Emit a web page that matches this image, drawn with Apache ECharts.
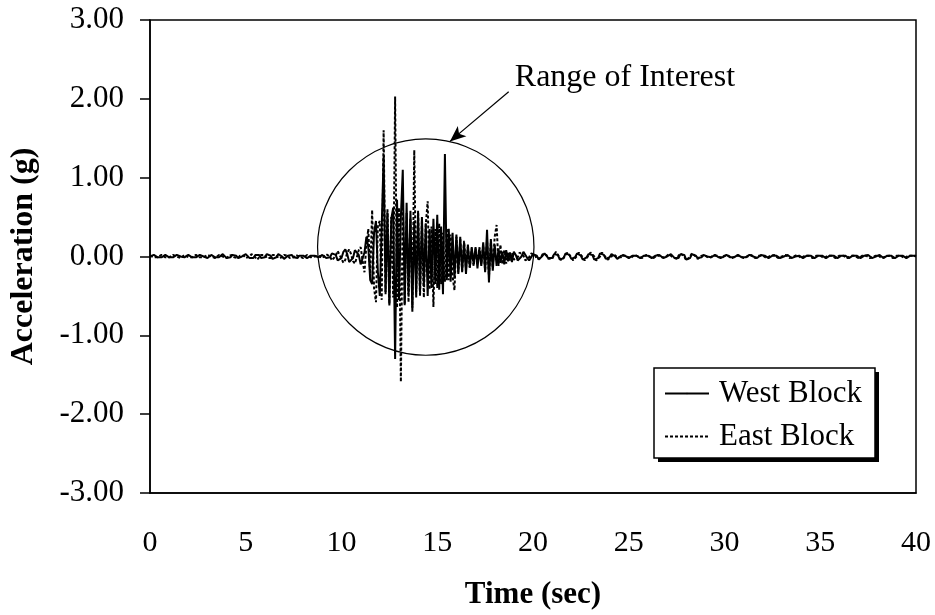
<!DOCTYPE html>
<html>
<head>
<meta charset="utf-8">
<script src="https://cdn.jsdelivr.net/npm/echarts@6/dist/echarts.min.js"></script>
<style>
html,body{margin:0;padding:0;background:#fff;}
#chart{width:935px;height:615px;}
</style>
</head>
<body>
<div id="chart"></div>
<script>
// ---- data ----
const timeStep = 0.1; // seconds between samples
const xTicks = [0, 5, 10, 15, 20, 25, 30, 35, 40];
const yTicks = [-3, -2, -1, 0, 1, 2, 3];
const seriesNames = ['West Block', 'East Block'];

const westAccel = [
  0.00, 0.01, 0.02, 0.01,-0.01,-0.02,-0.01, 0.01, 0.02, 0.01,
 -0.01,-0.02,-0.01, 0.01, 0.02, 0.01, 0.00,-0.02,-0.01, 0.01,
  0.02, 0.01,-0.01,-0.02,-0.01, 0.01, 0.02, 0.02, 0.00,-0.02,
 -0.02, 0.00, 0.02, 0.01,-0.01,-0.02,-0.01, 0.01, 0.03, 0.01,
 -0.02,-0.03,-0.01, 0.02, 0.03, 0.01,-0.02,-0.02, 0.00, 0.02,
  0.03, 0.01,-0.02,-0.04,-0.02, 0.02, 0.04, 0.02,-0.02,-0.03,
 -0.01, 0.03, 0.04, 0.01,-0.03,-0.04,-0.01, 0.03, 0.03, 0.00,
 -0.03,-0.02, 0.01, 0.03, 0.02,-0.01,-0.03,-0.02, 0.01, 0.02,
  0.01,-0.01,-0.02,-0.01, 0.01, 0.02, 0.01,-0.01,-0.01, 0.01,
  0.02, 0.01,-0.02,-0.04,-0.01, 0.04, 0.06, 0.02,-0.05,-0.07,
 -0.02, 0.06, 0.09, 0.03,-0.07,-0.09,-0.02, 0.08, 0.10, 0.02,
 -0.10,-0.12, 0.05, 0.25, 0.12,-0.30,-0.35, 0.30, 0.45,-0.20,
 -0.50, 0.38, 1.27,-0.45, 0.55,-0.62, 0.48, 0.62,-1.30, 0.72,
 -0.55, 0.50, 1.10,-0.60, 0.68,-0.48, 0.58,-0.70, 0.45,-0.52,
  0.55,-0.45, 0.50,-0.38, 0.42,-0.50, 0.35,-0.40, 0.48,-0.35,
  0.53,-0.42, 0.38,-0.48, 1.30,-0.30, 0.35,-0.32, 0.30,-0.28,
  0.28,-0.22, 0.25,-0.20, 0.18,-0.22, 0.15,-0.14, 0.12,-0.10,
  0.12,-0.15, 0.10,-0.12, 0.18,-0.20, 0.34,-0.33, 0.22,-0.18,
  0.15,-0.12, 0.10,-0.08, 0.06,-0.10, 0.08,-0.06, 0.05,-0.07,
  0.06, 0.02,-0.05,-0.06, 0.00, 0.06, 0.05,-0.02,-0.05,-0.03,
  0.03, 0.05, 0.01,-0.04,-0.04, 0.01, 0.04, 0.03,-0.02,-0.04,
 -0.02, 0.03, 0.05, 0.02,-0.04,-0.06,-0.02, 0.04, 0.06, 0.02,
 -0.03,-0.05,-0.01, 0.04, 0.05, 0.01,-0.04,-0.05,-0.01, 0.03,
  0.05, 0.02,-0.04,-0.06,-0.02, 0.04, 0.06, 0.02,-0.03,-0.04,
 -0.01, 0.03, 0.03, 0.00,-0.03,-0.02, 0.01, 0.02, 0.01,-0.01,
 -0.02,-0.01, 0.01, 0.02, 0.01,-0.01,-0.02,-0.01, 0.01, 0.02,
  0.01,-0.01,-0.02,-0.01, 0.01, 0.02, 0.02, 0.00,-0.02,-0.02,
  0.00, 0.02, 0.03, 0.01,-0.02,-0.04,-0.02, 0.03, 0.05, 0.02,
 -0.04,-0.06,-0.02, 0.03, 0.04, 0.01,-0.02,-0.03,-0.01, 0.02,
  0.02, 0.00,-0.02,-0.01, 0.01, 0.02, 0.01,-0.01,-0.02,-0.01,
  0.01, 0.02, 0.01,-0.01,-0.02,-0.01, 0.01, 0.02, 0.01,-0.01,
 -0.02,-0.01, 0.01, 0.02, 0.02, 0.00,-0.02,-0.02, 0.00, 0.02,
  0.02, 0.01,-0.01,-0.02,-0.01, 0.01, 0.02, 0.01,-0.01,-0.02,
 -0.02, 0.00, 0.02, 0.02, 0.00,-0.02,-0.02, 0.00, 0.02, 0.01,
 -0.01,-0.02,-0.01, 0.01, 0.02, 0.01,-0.01,-0.02,-0.01, 0.01,
  0.02, 0.01,-0.01,-0.02,-0.01, 0.01, 0.02, 0.01,-0.01,-0.02,
 -0.01, 0.01, 0.02, 0.01,-0.01,-0.02,-0.01, 0.01, 0.02, 0.01,
 -0.01,-0.02,-0.01, 0.01, 0.02, 0.02, 0.00,-0.02,-0.02, 0.00,
  0.02, 0.02, 0.00,-0.02,-0.01, 0.01, 0.02, 0.01,-0.01,-0.02,
 -0.01, 0.01, 0.02, 0.01,-0.01,-0.02,-0.01, 0.01, 0.02, 0.01,
  0.00
];

const eastAccel = [
  0.01, 0.00,-0.01,-0.02,-0.01, 0.01, 0.02, 0.01,-0.01,-0.02,
 -0.01, 0.01, 0.02, 0.02, 0.00,-0.02,-0.02, 0.00, 0.02, 0.01,
 -0.01,-0.02,-0.01, 0.01, 0.02, 0.01,-0.01,-0.02,-0.01, 0.01,
  0.02, 0.02, 0.00,-0.02,-0.02, 0.00, 0.02, 0.02, 0.00,-0.02,
 -0.02, 0.01, 0.03, 0.02,-0.01,-0.03,-0.02, 0.01, 0.03, 0.01,
 -0.02,-0.03, 0.00, 0.03, 0.03,-0.01,-0.04,-0.02, 0.02, 0.04,
  0.02,-0.02,-0.04,-0.02, 0.02, 0.04, 0.02,-0.02,-0.04,-0.01,
  0.02, 0.03, 0.01,-0.02,-0.03,-0.01, 0.02, 0.03, 0.00,-0.02,
 -0.02, 0.00, 0.02, 0.01,-0.01,-0.02, 0.00, 0.02, 0.01,-0.01,
 -0.02, 0.00, 0.03, 0.04, 0.00,-0.05,-0.05, 0.01, 0.07, 0.05,
 -0.03,-0.08,-0.04, 0.05, 0.09, 0.03,-0.06,-0.09,-0.01, 0.08,
  0.12,-0.05,-0.20, 0.15, 0.35,-0.25, 0.59,-0.40,-0.58, 0.40,
  0.45,-0.55, 1.60,-0.48, 0.60,-0.60, 0.50,-0.52, 2.03,-0.65,
  0.62,-1.59, 0.70,-0.62, 0.55,-0.58, 0.48,-0.65, 1.35,-0.45,
  0.58,-0.50, 0.45,-0.52, 0.40, 0.70,-0.42, 0.38,-0.64, 0.35,
 -0.40, 0.42,-0.35, 0.30,-0.32, 0.36,-0.30, 0.28,-0.25,-0.43,
  0.25,-0.20, 0.22,-0.18, 0.20,-0.15, 0.12,-0.14, 0.10,-0.12,
  0.10,-0.08, 0.12,-0.10, 0.15,-0.18, 0.20,-0.25, 0.18,-0.14,
  0.25, 0.40,-0.12, 0.15,-0.10, 0.08,-0.09, 0.06,-0.05, 0.04,
 -0.04,-0.06,-0.01, 0.05, 0.06, 0.01,-0.05,-0.06,-0.01, 0.04,
  0.05, 0.02,-0.03,-0.05,-0.02, 0.03, 0.05, 0.02,-0.03,-0.05,
 -0.03, 0.02, 0.06, 0.04,-0.02,-0.05,-0.03, 0.02, 0.05, 0.04,
 -0.01,-0.05,-0.04, 0.01, 0.05, 0.04,-0.01,-0.05,-0.04, 0.01,
  0.05, 0.05, 0.00,-0.05,-0.05, 0.00, 0.05, 0.04,-0.01,-0.04,
 -0.03, 0.00, 0.03, 0.02,-0.01,-0.03,-0.01, 0.02, 0.02, 0.00,
 -0.02,-0.02, 0.00, 0.02, 0.02, 0.00,-0.02,-0.02, 0.00, 0.02,
  0.02, 0.00,-0.02,-0.02, 0.00, 0.02, 0.01,-0.01,-0.02,-0.01,
  0.01, 0.03, 0.02,-0.01,-0.03,-0.03, 0.01, 0.04, 0.04, 0.00,
 -0.05,-0.05, 0.00, 0.04, 0.03, 0.00,-0.03,-0.02, 0.01, 0.02,
  0.01,-0.01,-0.02,-0.01, 0.01, 0.02, 0.01,-0.01,-0.02,-0.01,
  0.01, 0.02, 0.01,-0.01,-0.02,-0.01, 0.01, 0.02, 0.01,-0.01,
 -0.02,-0.02, 0.00, 0.02, 0.02, 0.00,-0.02,-0.01, 0.01, 0.02,
  0.01,-0.01,-0.02,-0.01, 0.01, 0.02, 0.02, 0.00,-0.02,-0.02,
  0.00, 0.02, 0.02, 0.00,-0.02,-0.02, 0.00, 0.01, 0.02, 0.00,
 -0.02,-0.01, 0.01, 0.02, 0.01,-0.01,-0.02,-0.01, 0.01, 0.02,
  0.01,-0.01,-0.02,-0.01, 0.01, 0.02, 0.01,-0.01,-0.02,-0.01,
  0.01, 0.02, 0.01,-0.01,-0.02,-0.01, 0.01, 0.02, 0.01,-0.01,
 -0.02,-0.01, 0.01, 0.02, 0.01, 0.00,-0.02,-0.02, 0.00, 0.02,
  0.02, 0.00,-0.02,-0.02, 0.00, 0.02, 0.01,-0.01,-0.02,-0.01,
  0.01, 0.02, 0.01,-0.01,-0.02,-0.01, 0.01, 0.02, 0.01,-0.01,
  0.01
];

// annotation (data units)
const circleCenter = [14.4, 0.12];
const circleRadiusSec = 5.65;
const annotationText = 'Range of Interest';
const annotationPos = [19.05, 2.27];
const arrowFrom = [18.73, 2.09];
const arrowTo = [15.66, 1.46];

// ---- chart ----
const FONT = '"Times New Roman", "Liberation Serif", serif';
const toPairs = arr => arr.map((v, i) => [+(i * timeStep).toFixed(2), v]);

// legend box geometry (decoration)
const LEG = {left: 654, top: 368, width: 221, height: 90, shadow: 4};

const chart = echarts.init(document.getElementById('chart'), null, {renderer: 'canvas'});
chart.setOption({
  animation: false,
  backgroundColor: '#fff',
  grid: {
    left: 147, right: 19, top: 20, bottom: 119,
    show: true, borderColor: '#000', borderWidth: 1.5, backgroundColor: 'transparent'
  },
  graphic: [
    {type: 'rect', z: 5, silent: true,
     shape: {x: LEG.left + LEG.shadow, y: LEG.top + LEG.shadow, width: LEG.width, height: LEG.height},
     style: {fill: '#000'}},
    {type: 'rect', z: 6, silent: true,
     shape: {x: LEG.left, y: LEG.top, width: LEG.width, height: LEG.height},
     style: {fill: '#fff', stroke: '#000', lineWidth: 1.5}}
  ],
  legend: {
    orient: 'vertical',
    left: LEG.left, top: LEG.top,
    z: 10,
    padding: [10, 8, 10, 10],
    itemGap: 12,
    itemWidth: 44,
    itemHeight: 2,
    textStyle: {fontFamily: FONT, fontSize: 31, color: '#000', padding: [0, 0, 0, 5]},
    data: seriesNames
  },
  xAxis: {
    type: 'value', min: xTicks[0], max: xTicks[xTicks.length - 1], interval: 5,
    name: 'Time (sec)', nameLocation: 'middle', nameGap: 86,
    nameTextStyle: {fontFamily: FONT, fontSize: 31, fontWeight: 'bold', color: '#000'},
    axisLine: {show: true, onZero: false, lineStyle: {color: '#000', width: 1.5}},
    axisTick: {show: false},
    axisLabel: {fontFamily: FONT, fontSize: 30, color: '#000', margin: 35},
    splitLine: {show: false}
  },
  yAxis: {
    type: 'value', min: yTicks[0], max: yTicks[yTicks.length - 1], interval: 1,
    name: 'Acceleration (g)', nameLocation: 'middle', nameGap: 110, nameRotate: 90,
    nameTextStyle: {fontFamily: FONT, fontSize: 32, fontWeight: 'bold', color: '#000'},
    axisLine: {show: true, onZero: false, lineStyle: {color: '#000', width: 1.5}},
    axisTick: {show: true, inside: false, length: 10, lineStyle: {color: '#000', width: 1.5}},
    axisLabel: {fontFamily: FONT, fontSize: 31, color: '#000', margin: 26,
      formatter: v => v.toFixed(2)},
    splitLine: {show: false}
  },
  series: [
    {
      name: seriesNames[0], type: 'line', data: toPairs(westAccel),
      symbol: 'none', smooth: false,
      lineStyle: {color: '#000', width: 2, type: 'solid'},
      itemStyle: {color: '#000'}
    },
    {
      name: seriesNames[1], type: 'line', data: toPairs(eastAccel),
      symbol: 'none', smooth: false,
      lineStyle: {color: '#000', width: 2, type: [3, 2]},
      itemStyle: {color: '#000'}
    },
    {
      type: 'custom', name: 'annotation', silent: true,
      data: [[circleCenter[0], circleCenter[1], circleRadiusSec]],
      clip: false,
      renderItem: function (params, api) {
        const c = api.coord([api.value(0), api.value(1)]);
        const r = api.size([api.value(2), 0])[0];
        const tp = api.coord(annotationPos);
        return {
          type: 'group',
          children: [
            {type: 'circle', shape: {cx: c[0], cy: c[1], r: r},
             style: {fill: 'none', stroke: '#000', lineWidth: 1.2}},
            {type: 'text', x: tp[0], y: tp[1],
             style: {text: annotationText, fill: '#000', font: '32px ' + FONT,
                     align: 'left', verticalAlign: 'middle'}}
          ]
        };
      },
      markLine: {
        silent: true,
        symbol: ['none', 'arrow'],
        symbolSize: [10, 16],
        label: {show: false},
        lineStyle: {color: '#000', width: 1.2, type: 'solid'},
        data: [[{coord: arrowFrom}, {coord: arrowTo}]]
      }
    }
  ]
});
</script>
</body>
</html>
